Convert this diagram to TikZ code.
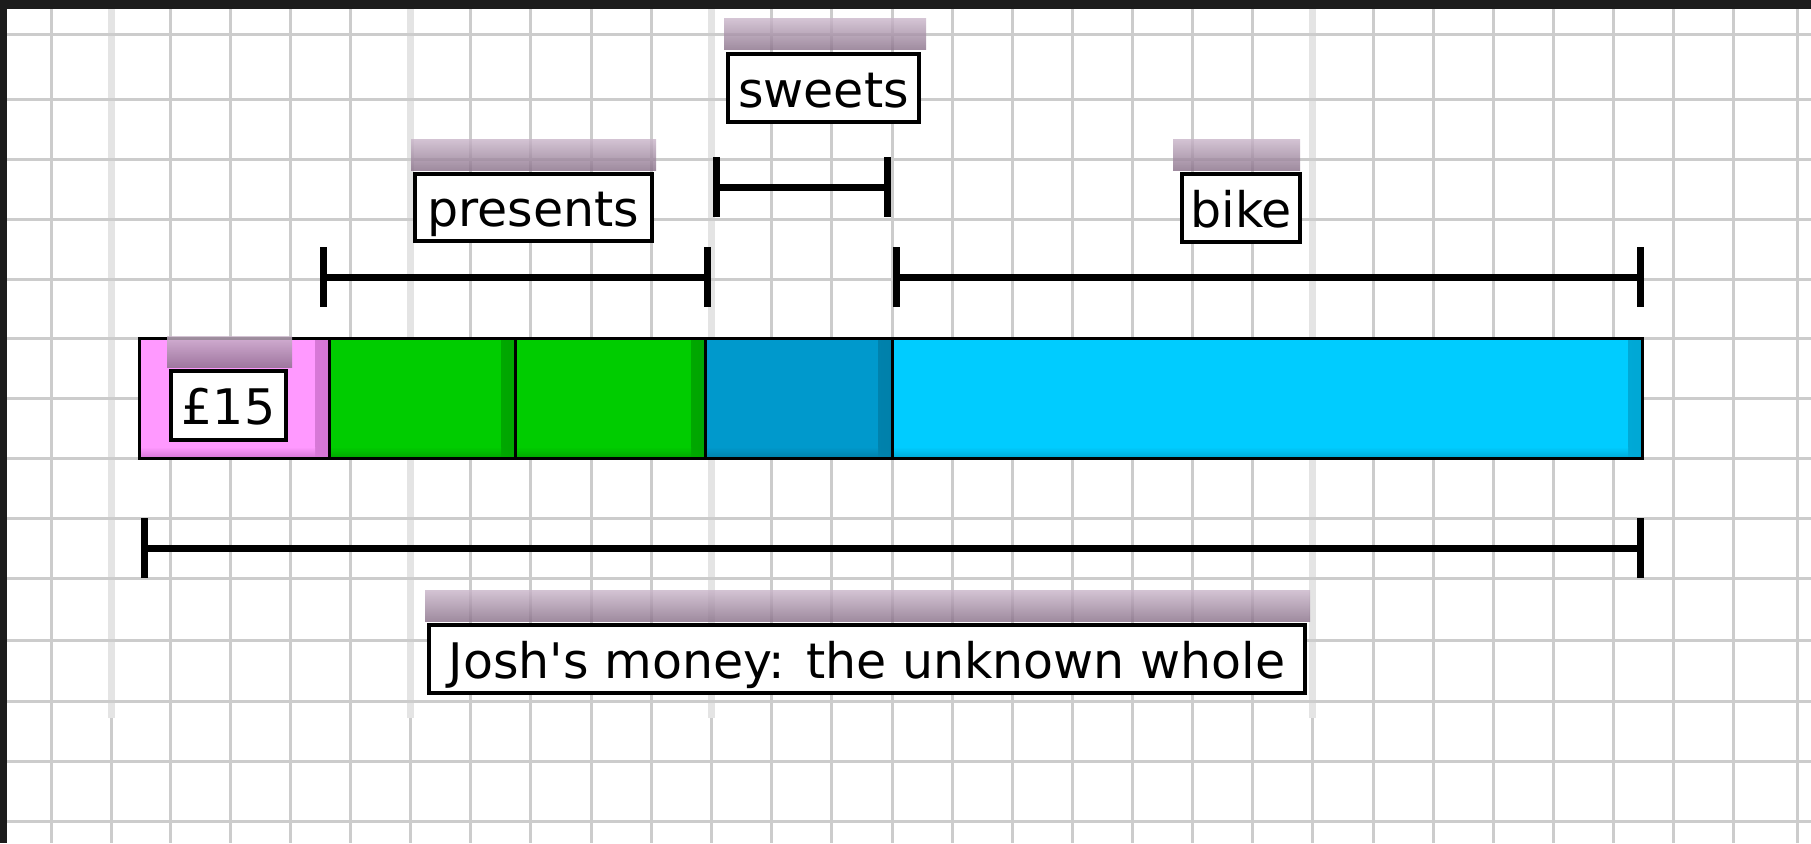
\documentclass[tikz,border=0pt]{standalone}
\usepackage{fontspec}
\newfontfamily\labfont{DejaVu Sans}
\usetikzlibrary{calc}
\definecolor{gridc}{HTML}{CCCCCC}
\definecolor{gridl}{HTML}{E4E4E4}
\definecolor{darkband}{HTML}{1C1C1C}
\definecolor{pinkc}{HTML}{FF99FF}
\definecolor{pinkd}{HTML}{D475D4}
\definecolor{greenc}{HTML}{00CC00}
\definecolor{greend}{HTML}{00A500}
\definecolor{dbluec}{HTML}{0099CC}
\definecolor{dblued}{HTML}{0080AA}
\definecolor{cyanc}{HTML}{00CCFF}
\definecolor{cyand}{HTML}{00A8D5}
\definecolor{shtop}{HTML}{C9B5C9}
\definecolor{shbot}{HTML}{886F88}
\begin{document}
\begin{tikzpicture}[x=1pt,y=-1pt,
  gridline/.style={draw=gridc, line width=3pt},
  seg/.style 2 args={rectangle, inner sep=0pt, minimum height=120pt, fill=#1, draw=black, line width=3pt,
    path picture={
      \shade[left color=#1, right color=#2] ([xshift=-14pt]path picture bounding box.north east) rectangle (path picture bounding box.south east);
      \shade[top color=#1, bottom color=#2] ([yshift=11pt]path picture bounding box.south west) rectangle ([xshift=-14pt]path picture bounding box.south east);
    }},
  lbl/.style={rectangle, draw=black, line width=4pt, fill=white, inner sep=0pt,
    text height=38pt, text depth=0pt, font=\labfont\fontsize{49}{58}\selectfont},
  labshadow/.style={top color=shtop, bottom color=shbot, opacity=0.8},
  bracket/.style={draw=black, line width=7pt},
  tickmark/.style={draw=black, line width=7pt}
]
\useasboundingbox (0,0) rectangle (1811,843);
\fill[white] (0,0) rectangle (1811,843);
% grid
\foreach \x in {111,410,711,1312}{
  \fill[gridl] (\x-3.5,9) rectangle (\x+3.5,718);
  \draw[gridline] (\x,718) -- (\x,843);
}
\foreach \x in {51,170,230,290,350,470,530,591,651,771,831,892,952,1012,1072,1132,1192,1252,1373,1433,1493,1553,1613,1673,1733,1797}
  \draw[gridline] (\x,9) -- (\x,843);
\foreach \y in {35,99,159,219,279,338,398,458,518,578,640,701,761,821}
  \draw[gridline] (7,\y) -- (1811,\y);
% dark bands
\fill[darkband] (0,0) rectangle (1811,9);
\fill[darkband] (0,0) rectangle (7,843);

% bar segments
\node[seg={pinkc}{pinkd}, minimum width=190pt] (pink) at (234,398) {};
\node[seg={greenc}{greend}, minimum width=186pt] (green1) at (422,398) {};
\node[seg={greenc}{greend}, minimum width=190pt] (green2) at (610,398) {};
\node[seg={dbluec}{dblued}, minimum width=187pt] (dblue) at (798.5,398) {};
\node[seg={cyanc}{cyand}, minimum width=750pt] (cyan) at (1267,398) {};

% label boxes (placed first to get their anchors)
\node[lbl, minimum width=115pt, minimum height=69pt] (l15) at (228.5,405.5) {£15};
\node[lbl, minimum width=237pt, minimum height=67pt] (lpres) at (533.5,207.5) {presents};
\node[lbl, minimum width=191pt, minimum height=68pt] (lsweets) at (823.5,88) {sweets};
\node[lbl, minimum width=118pt, minimum height=68pt] (lbike) at (1241,208) {bike};
\node[lbl, minimum width=876pt, minimum height=68pt] (ljosh) at (867,659) {Josh's money: the unknown whole};

% shadows above the labels
\foreach \n/\dl/\dr in {l15/-2/4, lpres/-2/2, lsweets/-2/5, lbike/-7/-2, ljosh/-2/3}{
  \shade[labshadow] ($(\n.north west)+(\dl,-33)$) rectangle ($(\n.north east)+(\dr,-2)$);
}
% label boxes again on top of the shadows
\node[lbl, minimum width=115pt, minimum height=69pt] at (l15) {£15};
\node[lbl, minimum width=237pt, minimum height=67pt] at (lpres) {presents};
\node[lbl, minimum width=191pt, minimum height=68pt] at (lsweets) {sweets};
\node[lbl, minimum width=118pt, minimum height=68pt] at (lbike) {bike};
\node[lbl, minimum width=876pt, minimum height=68pt] at (ljosh) {Josh's money: the unknown whole};

% brackets
\coordinate (pl) at (323,277); \coordinate (pr) at (707,277);
\coordinate (sl) at (716,187); \coordinate (sr) at (887,187);
\coordinate (bl) at (896,277); \coordinate (br) at (1640,277);
\coordinate (wl) at (144,548); \coordinate (wr) at (1640,548);
\foreach \a/\b in {pl/pr, sl/sr, bl/br, wl/wr}{
  \draw[bracket] (\a) -- (\b);
  \draw[tickmark] ($(\a)+(0,-30)$) -- ($(\a)+(0,30)$);
  \draw[tickmark] ($(\b)+(0,-30)$) -- ($(\b)+(0,30)$);
}
\end{tikzpicture}
\end{document}
